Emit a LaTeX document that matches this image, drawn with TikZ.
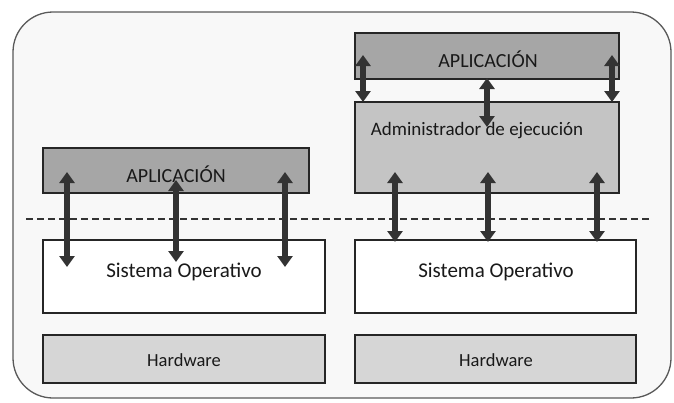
\documentclass[tikz,border=0pt]{standalone}
\usepackage{fontspec}
\setmainfont{Carlito}
\usetikzlibrary{arrows.meta}
\definecolor{appgray}{HTML}{A6A6A6}
\definecolor{admgray}{HTML}{C4C4C4}
\definecolor{hwgray}{HTML}{D6D6D6}
\definecolor{arrowgray}{HTML}{333333}
\definecolor{panel}{HTML}{F8F8F8}
\begin{document}
\begin{tikzpicture}[x=1pt,y=-1pt,
  layer/.style={draw=black!85,line width=1.1pt,inner sep=0pt},
  biarrow/.style={arrowgray,line width=6pt,
    {Triangle[width=15pt,length=11pt]}-{Triangle[width=15pt,length=11pt]}},
  lbl/.style={font=\fontsize{20}{24}\selectfont,text=black!90}]
\useasboundingbox (0,0) rectangle (674,402);
% outer panel
\draw[fill=panel,draw=black!65,line width=1.3pt,rounded corners=40pt] (13,12) rectangle (671,398);
% left stack
\node[layer,fill=appgray,minimum width=266pt,minimum height=45pt] (lapp) at (176,170.5) {};
\node[layer,fill=white,minimum width=282pt,minimum height=73pt] (los) at (184,276.5) {};
\node[layer,fill=hwgray,minimum width=282pt,minimum height=48pt] (lhw) at (184,359) {};
% right stack
\node[layer,fill=appgray,minimum width=264pt,minimum height=46pt] (rapp) at (487,56) {};
\node[layer,fill=admgray,minimum width=264pt,minimum height=91pt] (radm) at (487,147.5) {};
\node[layer,fill=white,minimum width=281pt,minimum height=73pt] (ros) at (495.5,276.5) {};
\node[layer,fill=hwgray,minimum width=281pt,minimum height=48pt] (rhw) at (495.5,359) {};
% labels
\node[lbl] (tlapp) at (176,174) {APLICACIÓN};
\node[lbl,font=\fontsize{21}{25}\selectfont] (tlos) at (184,272) {Sistema Operativo};
\node[lbl,font=\fontsize{18.5}{22}\selectfont] (tlhw) at (184,360) {Hardware};
\node[lbl] (trapp) at (488,59) {APLICACIÓN};
\node[lbl,font=\fontsize{19}{23}\selectfont] (tradm) at (477,131) {Administrador de ejecución};
\node[lbl,font=\fontsize{21}{25}\selectfont] (tros) at (496,272) {Sistema Operativo};
\node[lbl,font=\fontsize{18.5}{22}\selectfont] (trhw) at (496,360) {Hardware};
% boundary between user space and the system
\draw[line width=1.2pt,black!80,dash pattern=on 7pt off 4pt] (26,219) -- (652,219);
% arrow end points
\coordinate (a1t) at (67,172);  \coordinate (a1b) at (67,267);
\coordinate (a2t) at (176,180); \coordinate (a2b) at (176,262);
\coordinate (a3t) at (285,172); \coordinate (a3b) at (285,267);
\coordinate (b1t) at (363,55);  \coordinate (b1b) at (363,102);
\coordinate (b2t) at (487,78);  \coordinate (b2b) at (487,127);
\coordinate (b3t) at (612,55);  \coordinate (b3b) at (612,102);
\coordinate (c1t) at (395,172); \coordinate (c1b) at (395,242);
\coordinate (c2t) at (488,172); \coordinate (c2b) at (488,242);
\coordinate (c3t) at (597,172); \coordinate (c3b) at (597,242);
\foreach \p in {a1,a2,a3,b1,b2,b3,c1,c2,c3}
  \draw[biarrow] (\p t) -- (\p b);
\end{tikzpicture}
\end{document}
